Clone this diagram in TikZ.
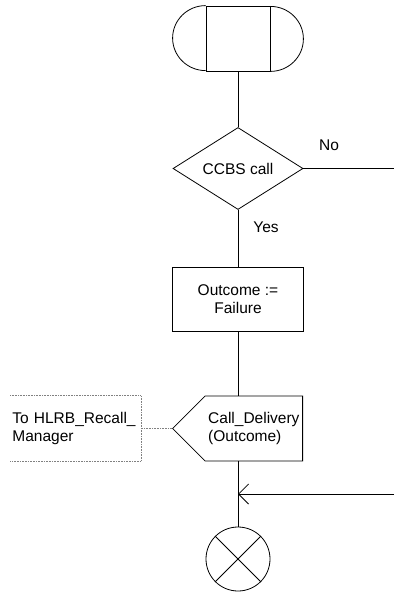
\documentclass[tikz,border=0pt]{standalone}
\usepackage{fontspec}
\setmainfont{Liberation Sans}
\usetikzlibrary{shapes.geometric,shapes.symbols,arrows.meta}

\newcommand*{\xmain}{238}
\newcommand*{\xedge}{394}

\begin{document}
\begin{tikzpicture}
[
	x=1pt, y=-1pt,
	line width=0.8pt,
	lbl/.style={font=\fontsize{15.5}{18}\selectfont},
	startbox/.style={rectangle,draw,minimum width=64,minimum height=65,inner sep=0pt},
	decision/.style={diamond,draw,lbl,minimum width=130,minimum height=65,inner sep=0pt},
	task/.style={rectangle,draw,lbl,align=center,minimum width=131,minimum height=64,inner sep=0pt},
	sendsig/.style={signal,signal to=west,draw,lbl,align=left,minimum width=130,minimum height=65,inner sep=0pt},
	comment/.style={lbl,align=left,anchor=west,text width=126,minimum height=65,inner xsep=2pt,inner ysep=4pt},
	stopsym/.style={circle,draw,minimum size=64,inner sep=0pt},
	note/.style={densely dotted,gray,line width=0.6pt}
]

	\useasboundingbox (0,0) rectangle (\xedge,596);

	% start symbol
	\node[startbox] at (\xmain,38.5) (start) {};
	\draw (start.north west) arc[start angle=270,end angle=90,x radius=33,y radius=32.5];
	\draw (start.south east) arc[start angle=90,end angle=-90,x radius=33,y radius=32.5];

	% decision
	\node[decision] at (\xmain,168.5) (ccbs) {CCBS call};
	\coordinate (noexit) at (\xedge,168.5);
	\node[lbl,anchor=base] at (329,150.5) (no) {No};
	\node[lbl,anchor=base] at (266,232.5) (yes) {Yes};

	% task
	\node[task] at (\xmain,299) (outcome) {Outcome :=\\Failure};

	% output
	\node[sendsig,anchor=east] at (303,428.5) (deliv) {Call\_Delivery\\(Outcome)};
	\node[comment] at (10,428.5) (hlrb) {To HLRB\_Recall\_\\Manager};

	% stop
	\node[stopsym] at (\xmain,559) (stop) {};
	\coordinate (join) at (\xmain,494);
	\coordinate (fromright) at (\xedge,494);

	% connectors
	\draw (start.south) -- (ccbs.north);
	\draw (ccbs.east) -- (noexit);
	\draw (ccbs.south) -- (outcome.north);
	\draw (outcome.south) -- (outcome.south |- deliv.north);
	\draw (outcome.south |- deliv.south) -- (stop.north);
	\draw[-{Straight Barb[length=10pt,width=20pt]}] (fromright) -- (join);
	\draw (stop.north west) -- (stop.south east);
	\draw (stop.north east) -- (stop.south west);

	% comment
	\draw[note] (hlrb.north west) -- (hlrb.north east) -- (hlrb.south east) -- (hlrb.south west);
	\draw[note] (hlrb.east) -- (deliv.west);

\end{tikzpicture}
\end{document}
